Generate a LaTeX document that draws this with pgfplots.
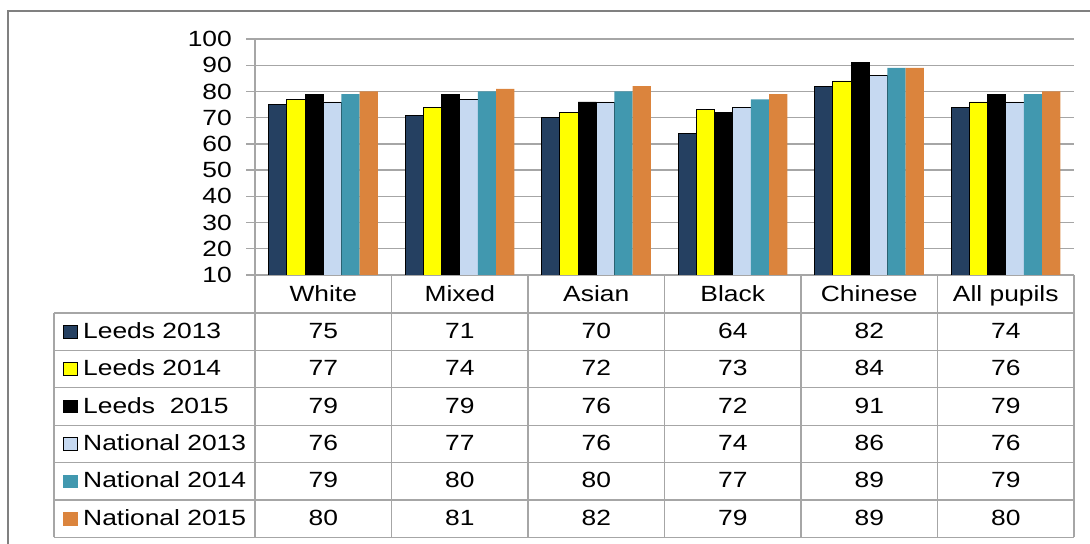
\documentclass[border=0pt]{standalone}
\usepackage{fontspec}
\setmainfont{Liberation Sans}[FakeStretch=1.2]
\usepackage{pgfplots}
\usepackage{pgfplotstable}
\pgfplotsset{compat=1.18}
\definecolor{cNavy}{HTML}{254061}
\definecolor{cYellow}{HTML}{FFFF00}
\definecolor{cLight}{HTML}{C6D9F1}
\definecolor{cTeal}{HTML}{4198AF}
\definecolor{cOrange}{HTML}{DB843D}
\definecolor{gridc}{HTML}{A6A6A6}
\definecolor{framec}{HTML}{808080}
\newcommand\tfont{\fontsize{22bp}{26bp}\selectfont}
\pgfplotstableread{
x s1 s2 s3 s4 s5 s6
0 75 77 79 76 79 80
1 71 74 79 77 80 81
2 70 72 76 76 80 82
3 64 73 72 74 77 79
4 82 84 91 86 89 89
5 74 76 79 76 79 80
}\data
\begin{document}
\begin{tikzpicture}
\begin{scope}[x=1bp,y=1bp]
\path[use as bounding box] (0,0) rectangle (1090,544);
\clip (0,0) rectangle (1090,544);
\draw[framec, line width=2bp] (8,-20) -- (8,533) -- (1100,533);
% table grid
\foreach \yy in {231,193.6,156.2,118.8,81.4,44,6.6}
  \draw[gridc, line width=1.3bp] (54,\yy) -- (1074,\yy);
\draw[gridc, line width=1.3bp] (54,6.6) -- (54,231);
\foreach \xx in {255,391.5,528,664.5,801,937.5,1074}
  \draw[gridc, line width=1.3bp] (\xx,6.6) -- (\xx,269);
% legend keys
\foreach \yc/\yb/\col/\dr/\lab in {212.3/205.7/cNavy/black/{Leeds 2013},
    174.9/168.3/cYellow/black/{Leeds 2014},
    137.5/130.9/black/black/{Leeds\ \ 2015},
    100.1/93.5/cLight/black/{National 2013},
    62.7/56.1/cTeal/cTeal/{National 2014},
    25.3/18.7/cOrange/cOrange/{National 2015}}{
  \draw[fill=\col, draw=\dr, line width=0.8bp] (63,\yc-6.25) rectangle (77,\yc+6.25);
  \node[anchor=base west, inner sep=0pt, font=\tfont] at (83,\yb) {\lab};
}
\end{scope}
\begin{axis}[at={(255bp,269bp)}, anchor=south west, scale only axis,
  width=819bp, height=236bp,
  xmin=-0.5, xmax=5.5, ymin=10, ymax=100,
  ytick={10,20,...,100}, xtick={0,...,5},
  xticklabels={White,Mixed,Asian,Black,Chinese,All pupils},
  axis x line*=bottom, axis y line*=left,
  axis line style={draw=gridc, line width=1.3bp},
  ymajorgrids, grid style={draw=gridc, line width=1.3bp},
  tick align=outside, major tick length=9bp,
  ytick style={draw=gridc, line width=1.3bp},
  xtick style={draw=none},
  tick label style={font=\tfont},
  /pgf/number format/assume math mode=true,
  yticklabel style={anchor=east, inner sep=0pt, xshift=-14bp},
  xticklabel style={anchor=base, inner sep=0pt, yshift=-18bp},
]
\addplot[ybar, bar width=18.2bp, bar shift=-45.5bp, fill=cNavy, draw=black, line width=0.8bp] table[x=x,y=s1]{\data};
\addplot[ybar, bar width=18.2bp, bar shift=-27.3bp, fill=cYellow, draw=black, line width=0.8bp] table[x=x,y=s2]{\data};
\addplot[ybar, bar width=18.2bp, bar shift=-9.1bp, fill=black, draw=black, line width=0.8bp] table[x=x,y=s3]{\data};
\addplot[ybar, bar width=18.2bp, bar shift=9.1bp, fill=cLight, draw=black, line width=0.8bp] table[x=x,y=s4]{\data};
\addplot[ybar, bar width=18.2bp, bar shift=27.3bp, fill=cTeal, draw=none] table[x=x,y=s5]{\data};
\addplot[ybar, bar width=18.2bp, bar shift=45.5bp, fill=cOrange, draw=none] table[x=x,y=s6]{\data};
\end{axis}
\begin{axis}[at={(255bp,6.6bp)}, anchor=south west, scale only axis,
  width=819bp, height=224.4bp,
  xmin=-0.5, xmax=5.5, ymin=0, ymax=6, hide axis, clip=false,
  every node near coord/.append style={anchor=base, inner sep=0pt, font=\tfont, text=black},
]
\addplot[draw=none, mark=none, nodes near coords, point meta=explicit symbolic] table[x=x, y expr=5.3235, meta=s1]{\data};
\addplot[draw=none, mark=none, nodes near coords, point meta=explicit symbolic] table[x=x, y expr=4.3235, meta=s2]{\data};
\addplot[draw=none, mark=none, nodes near coords, point meta=explicit symbolic] table[x=x, y expr=3.3235, meta=s3]{\data};
\addplot[draw=none, mark=none, nodes near coords, point meta=explicit symbolic] table[x=x, y expr=2.3235, meta=s4]{\data};
\addplot[draw=none, mark=none, nodes near coords, point meta=explicit symbolic] table[x=x, y expr=1.3235, meta=s5]{\data};
\addplot[draw=none, mark=none, nodes near coords, point meta=explicit symbolic] table[x=x, y expr=0.3235, meta=s6]{\data};
\end{axis}
\end{tikzpicture}
\end{document}
